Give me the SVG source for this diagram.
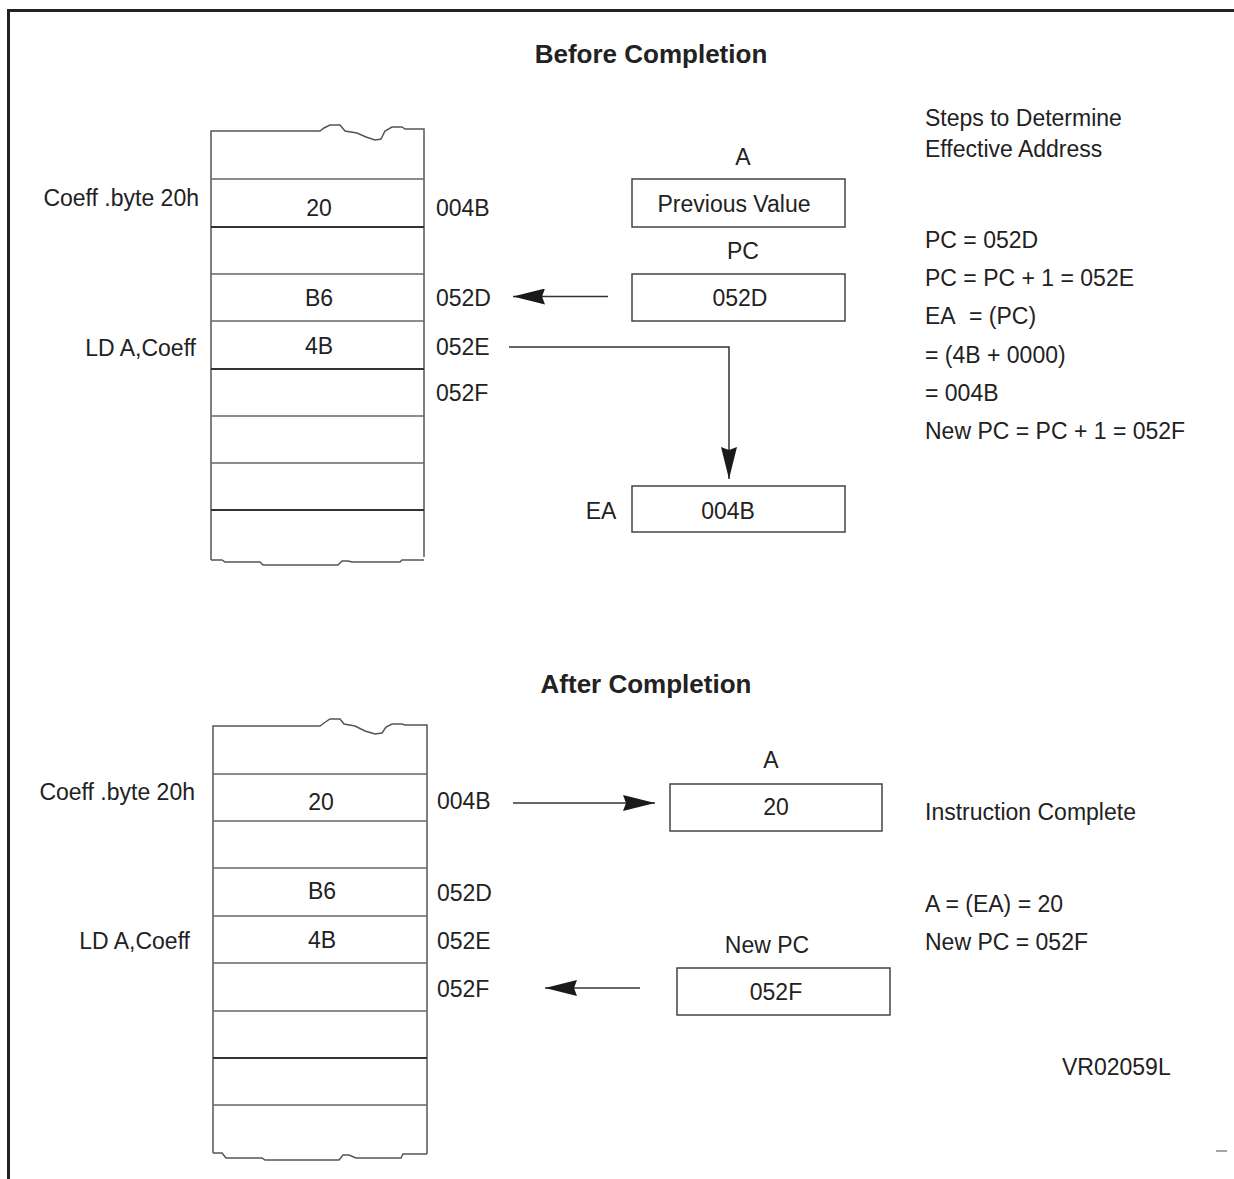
<svg xmlns="http://www.w3.org/2000/svg" width="1234" height="1179" viewBox="0 0 1234 1179">
<style>
text{font-family:"Liberation Sans",Arial,sans-serif;font-size:23px;fill:#222}
.t{font-weight:bold;font-size:26px;text-anchor:middle}
.m{text-anchor:middle}
.e{text-anchor:end}
.col{fill:none;stroke:#555;stroke-width:1.5}
.row{stroke:#666;stroke-width:1.5}
.rowd{stroke:#333;stroke-width:2}
.box{fill:#fff;stroke:#444;stroke-width:1.5}
.ln{fill:none;stroke:#333;stroke-width:1.5}
</style>
<defs>
<marker id="ah" markerWidth="32" markerHeight="16" refX="32" refY="8" orient="auto" markerUnits="userSpaceOnUse">
<path d="M0,0 L32,8 L0,16 L3,8 Z" fill="#1a1a1a"/>
</marker>
</defs>
<rect x="0" y="0" width="1234" height="1179" fill="#fff"/>
<g id="frame">
<path d="M1234,10.5 H8.5 V1179" fill="none" stroke="#222" stroke-width="3"/>
</g>
<text class="t" x="651" y="63">Before Completion</text>
<text class="t" x="646" y="693">After Completion</text>

<g id="memory-before">
<path class="col" d="M211,560 V131 H320 L324,128 L330,125 L340,125 L345,131 L357,133 L366,137 L375,140 L381,139 L385,131 L392,127 L402,127 L405,129 H424 V557"/>
<path class="col" d="M211,560 H222 L225,562 H260 L263,565 H338 L342,561 H348 L352,562 H400 L402,560 H424"/>
<line class="row" x1="211" y1="179" x2="424" y2="179"/>
<line class="rowd" x1="211" y1="227" x2="424" y2="227"/>
<line class="row" x1="211" y1="274" x2="424" y2="274"/>
<line class="row" x1="211" y1="321" x2="424" y2="321"/>
<line class="rowd" x1="211" y1="369" x2="424" y2="369"/>
<line class="row" x1="211" y1="416" x2="424" y2="416"/>
<line class="row" x1="211" y1="463" x2="424" y2="463"/>
<line class="rowd" x1="211" y1="510" x2="424" y2="510"/>
<text class="m" x="319" y="216">20</text>
<text class="m" x="319" y="306">B6</text>
<text class="m" x="319" y="354">4B</text>
<text class="e" x="199" y="206">Coeff .byte 20h</text>
<text class="e" x="196" y="356">LD A,Coeff</text>
<text x="436" y="216">004B</text>
<text x="436" y="306">052D</text>
<text x="436" y="355">052E</text>
<text x="436" y="401">052F</text>
</g>

<g id="reg-a-before">
<text class="m" x="743" y="165">A</text>
<rect class="box" x="632" y="179" width="213" height="48"/>
<text class="m" x="734" y="212">Previous Value</text>
</g>
<g id="reg-pc-before">
<text class="m" x="743" y="259">PC</text>
<rect class="box" x="632" y="274" width="213" height="47"/>
<text class="m" x="740" y="306">052D</text>
</g>
<g id="reg-ea">
<text class="m" x="601" y="519">EA</text>
<rect class="box" x="632" y="486" width="213" height="46"/>
<text class="m" x="728" y="519">004B</text>
</g>

<g id="steps">
<text x="925" y="126">Steps to Determine</text>
<text x="925" y="157">Effective Address</text>
<text x="925" y="248">PC = 052D</text>
<text x="925" y="286">PC = PC + 1 = 052E</text>
<text x="925" y="324">EA<tspan x="969">= (PC)</tspan></text>
<text x="925" y="363">= (4B + 0000)</text>
<text x="925" y="401">= 004B</text>
<text x="925" y="439">New PC = PC + 1 = 052F</text>
</g>

<g id="memory-after">
<path class="col" d="M213,1153 V726 H320 L324,723 L330,719 L340,719 L344,724 L355,726 L365,731 L375,734 L382,733 L386,727 L392,724 L402,724 L405,725 H427 V1154"/>
<path class="col" d="M213,1153 H222 L226,1158 H262 L265,1160 H339 L343,1155 H349 L356,1158 H401 L403,1154 H427"/>
<line class="row" x1="213" y1="774" x2="427" y2="774"/>
<line class="row" x1="213" y1="821" x2="427" y2="821"/>
<line class="row" x1="213" y1="868" x2="427" y2="868"/>
<line class="row" x1="213" y1="916" x2="427" y2="916"/>
<line class="row" x1="213" y1="963" x2="427" y2="963"/>
<line class="row" x1="213" y1="1011" x2="427" y2="1011"/>
<line class="rowd" x1="213" y1="1058" x2="427" y2="1058"/>
<line class="row" x1="213" y1="1105" x2="427" y2="1105"/>
<text class="m" x="321" y="810">20</text>
<text class="m" x="322" y="899">B6</text>
<text class="m" x="322" y="948">4B</text>
<text class="e" x="195" y="800">Coeff .byte 20h</text>
<text class="e" x="190" y="949">LD A,Coeff</text>
<text x="437" y="809">004B</text>
<text x="437" y="901">052D</text>
<text x="437" y="949">052E</text>
<text x="437" y="997">052F</text>
</g>

<g id="reg-a-after">
<text class="m" x="771" y="768">A</text>
<rect class="box" x="670" y="784" width="212" height="47"/>
<text class="m" x="776" y="815">20</text>
</g>
<g id="reg-pc-after">
<text class="m" x="767" y="953">New PC</text>
<rect class="box" x="677" y="968" width="213" height="47"/>
<text class="m" x="776" y="1000">052F</text>
</g>

<g id="result">
<text x="925" y="820">Instruction Complete</text>
<text x="925" y="912">A = (EA) = 20</text>
<text x="925" y="950">New PC = 052F</text>
</g>

<g id="connectors">
<line class="ln" x1="608" y1="296.5" x2="513" y2="296.5" marker-end="url(#ah)"/>
<polyline class="ln" points="509,347 729,347 729,479" marker-end="url(#ah)"/>
<line class="ln" x1="513" y1="803" x2="655" y2="803" marker-end="url(#ah)"/>
<line class="ln" x1="640" y1="988" x2="545" y2="988" marker-end="url(#ah)"/>
</g>

<text x="1062" y="1075">VR02059L</text>
<line x1="1216" y1="1151" x2="1227" y2="1151" stroke="#888" stroke-width="1.5"/>
</svg>
